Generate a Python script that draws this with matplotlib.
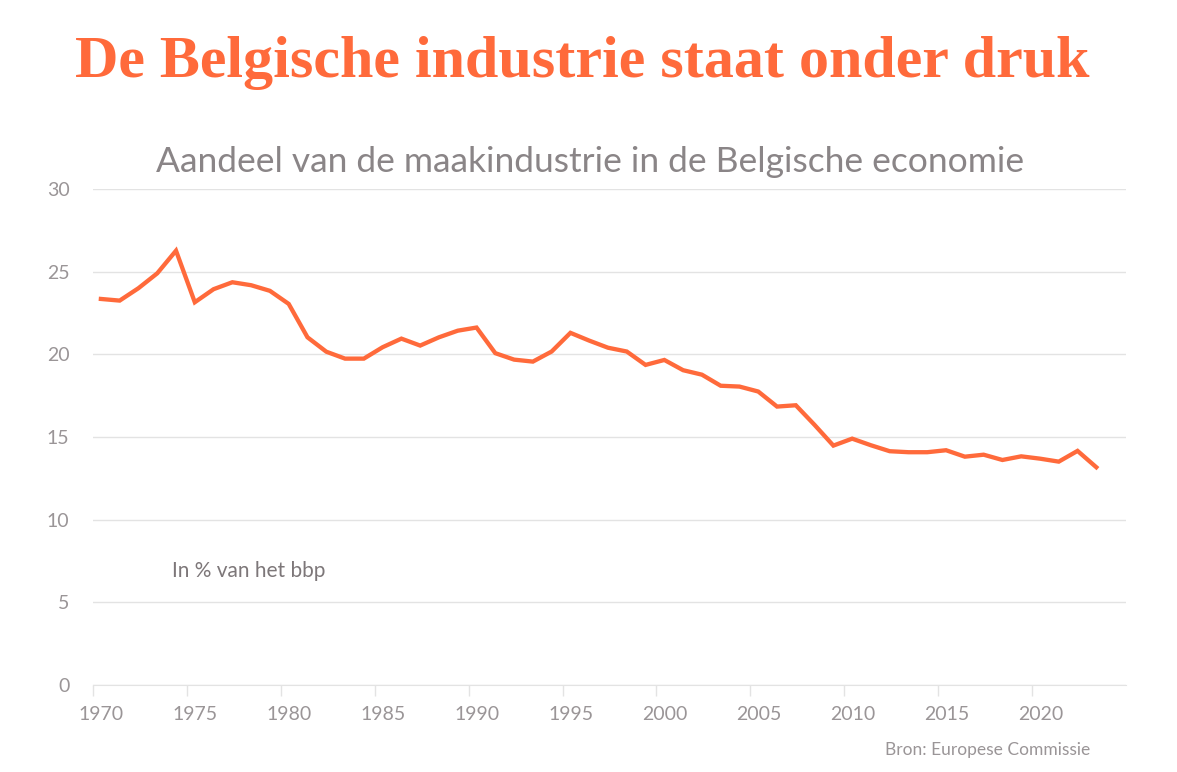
import matplotlib.pyplot as plt
import matplotlib.transforms as mtransforms
from matplotlib import font_manager

# Data: share of manufacturing in Belgian GDP (%)
years = list(range(1970, 2024))
share = [23.35, 23.25, 24.0, 24.9, 26.27, 23.15, 23.94, 24.36, 24.18, 23.84,
         23.05, 21.03, 20.16, 19.74, 19.74, 20.43, 20.95, 20.53, 21.03, 21.43,
         21.62, 20.07, 19.68, 19.56, 20.17, 21.3, 20.83, 20.4, 20.17, 19.36,
         19.66, 19.04, 18.77, 18.1, 18.05, 17.75, 16.84, 16.92, 15.73, 14.48,
         14.9, 14.5, 14.14, 14.08, 14.08, 14.2, 13.81, 13.93, 13.61, 13.83,
         13.69, 13.51, 14.16, 13.17]
x_ticks = list(range(1970, 2025, 5))
y_ticks = [0, 5, 10, 15, 20, 25, 30]

ORANGE = '#ff6a3b'
GREY = '#9a9597'
GRID = '#e3e3e3'

names = {f.name for f in font_manager.fontManager.ttflist}
sans = 'Lato' if 'Lato' in names else 'DejaVu Sans'


def main():
    fig = plt.figure(figsize=(11.77, 7.72), dpi=100)
    ax = fig.add_axes([93 / 1177, 1 - 685 / 772, (1126 - 93) / 1177, (685 - 189) / 772])

    # data plotted at mid-year
    xs = [y + 0.42 for y in years]
    ax.plot(xs, share, color=ORANGE, lw=3.1, solid_joinstyle='miter', zorder=3)

    ax.set_xlim(1970, 2025)
    ax.set_ylim(0, 30)
    ax.set_xticks(x_ticks)
    ax.set_yticks(y_ticks)
    ax.set_xticklabels([str(t) for t in x_ticks], fontsize=14, color=GREY, family=sans)
    ax.set_yticklabels([str(t) for t in y_ticks], fontsize=14, color=GREY, family=sans)
    ax.tick_params(axis='x', length=8, color=GRID, width=1, pad=7)
    ax.tick_params(axis='y', length=0, pad=17)
    # year labels sit slightly right of their tick marks
    shift = mtransforms.ScaledTranslation(8.5 / 100, 0, fig.dpi_scale_trans)
    for lbl in ax.get_xticklabels():
        lbl.set_transform(lbl.get_transform() + shift)
    ax.grid(axis='y', color=GRID, lw=1)
    ax.set_axisbelow(True)
    for s in ['top', 'right', 'left']:
        ax.spines[s].set_visible(False)
    ax.spines['bottom'].set_color(GRID)

    ax.text(1974.2, 6.9, 'In % van het bbp', fontsize=15, color='#7d7779',
            family=sans, va='center', ha='left')

    fig.text(75 / 1177, 1 - 63 / 772, 'De Belgische industrie staat onder druk',
             fontsize=43.3, color=ORANGE, family='Liberation Serif', weight='bold',
             va='center', ha='left')
    fig.text(590 / 1177, 1 - 162 / 772, 'Aandeel van de maakindustrie in de Belgische economie',
             fontsize=25.5, color='#8a8587', family=sans,
             va='center', ha='center')
    fig.text(1090 / 1177, 1 - 750 / 772, 'Bron: Europese Commissie', fontsize=12.5,
             color=GREY, family=sans, va='center', ha='right')

    fig.savefig('out.png', dpi=100)


if __name__ == '__main__':
    main()
